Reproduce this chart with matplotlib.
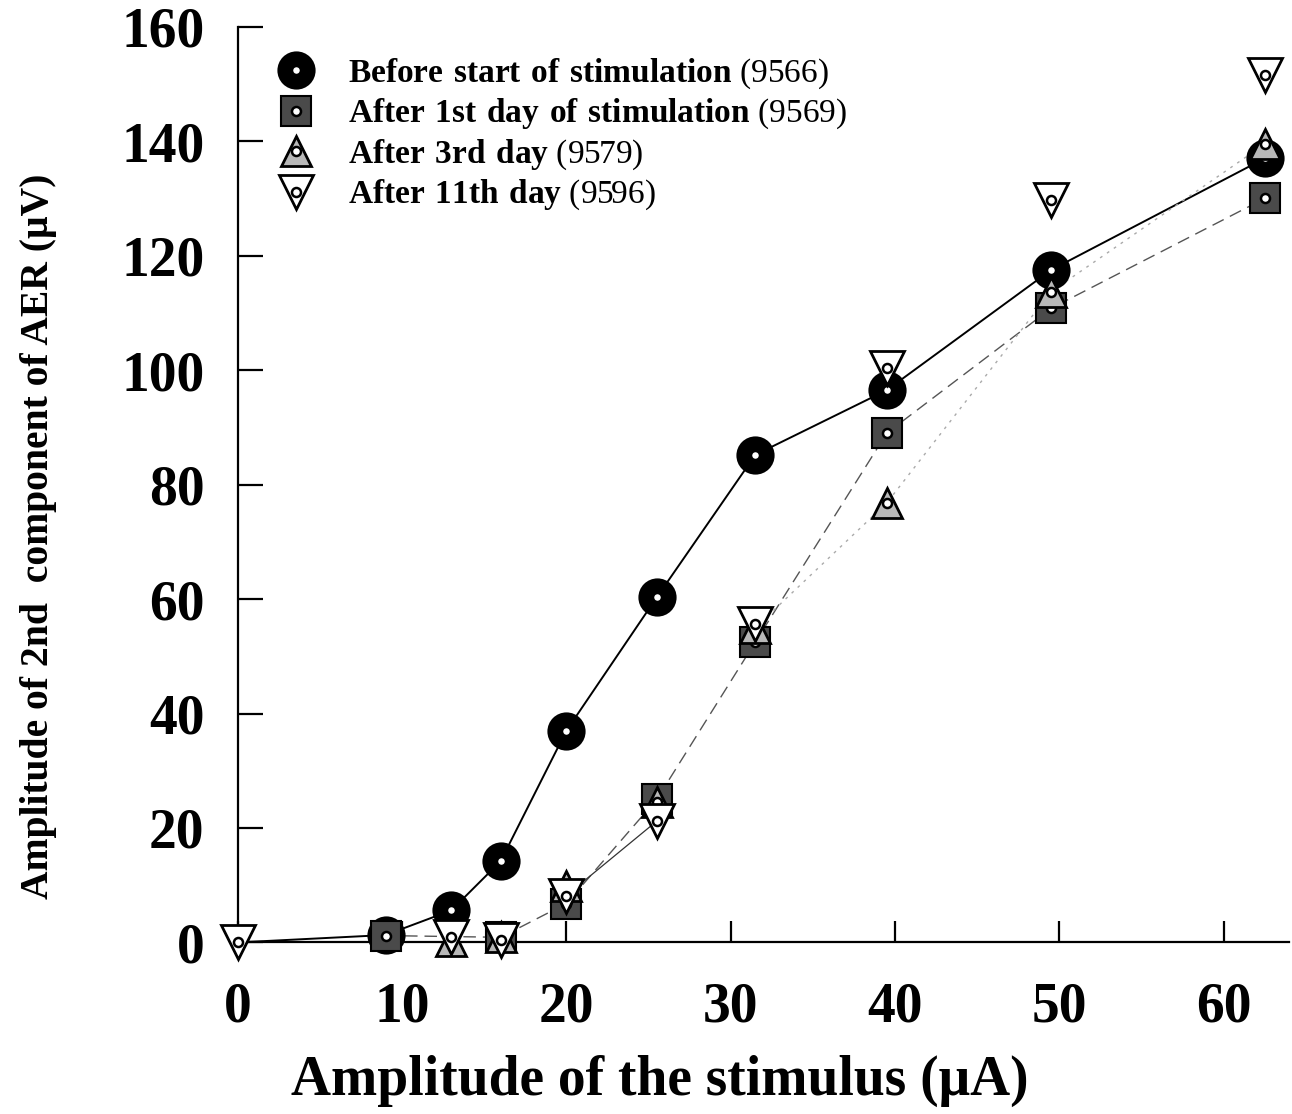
import numpy as np
import matplotlib
matplotlib.use("Agg")
import matplotlib.pyplot as plt

plt.rcParams['font.family'] = ['Liberation Serif', 'DejaVu Serif']
plt.rcParams['mathtext.fontset'] = 'custom'
plt.rcParams['mathtext.rm'] = 'Liberation Serif'
plt.rcParams['mathtext.bf'] = 'Liberation Serif:bold'

# Stimulus amplitude (uA) and AER 2nd-component amplitude (uV)
stimulus = [0, 9, 13, 16, 20, 25.5, 31.5, 39.5, 49.5, 62.5]
before = [0, 1.3, 5.6, 14.2, 37.0, 60.3, 85.2, 96.5, 117.5, 137.0]
day1 = [np.nan, 1.2, np.nan, 0.9, 6.8, 25.0, 52.5, 89.0, 110.8, 130.0]
day3 = [np.nan, np.nan, 0.3, 1.0, 9.8, 24.5, 55.0, 76.8, 113.7, 139.5]
day11 = [0, np.nan, 1.0, 0.5, 8.2, 21.2, 55.6, 100.3, 129.7, 151.6]

labels = [r"$\mathbf{Before\ start\ of\ stimulation}$ (9566)",
          r"$\mathbf{After\ 1st\ day\ of\ stimulation}$ (9569)",
          r"$\mathbf{After\ 3rd\ day}$ (9579)",
          r"$\mathbf{After\ 11th\ day}$ (9596)"]

xticks = [0, 10, 20, 30, 40, 50, 60]
yticks = [0, 20, 40, 60, 80, 100, 120, 140, 160]

fig = plt.figure(figsize=(12.92, 11.14), dpi=100)
ax = fig.add_axes([0.184, 0.154, 0.814, 0.822])

x = np.array(stimulus, dtype=float)

def connected(y):
    y = np.array(y, dtype=float)
    m = ~np.isnan(y)
    return x[m], y[m]

# connecting lines
bx, by = connected(before)
ax.plot(bx, by, color='black', lw=1.4, zorder=2, clip_on=False)
d1x, d1y = connected(day1)
ax.plot(d1x, d1y, color='#555555', lw=1.0, dashes=(9, 5), zorder=2, clip_on=False)
d3x, d3y = connected(day3)
ax.plot(d3x[4:], d3y[4:], color='#aaaaaa', lw=1.0, dashes=(2, 4), zorder=2, clip_on=False)
d11x, d11y = connected(day11)
ax.plot(d11x[3:5], d11y[3:5], color='#333333', lw=0.9, zorder=2, clip_on=False)

dot = dict(marker='o', ms=6.5, mfc='white', mec='black', mew=1.8, ls='none', clip_on=False)

series = [
    (before, dict(marker='o', ms=26, mfc='black', mec='black', mew=1.5), True),
    (day1, dict(marker='s', ms=21, mfc='#4a4a4a', mec='black', mew=1.5), False),
    (day3, dict(marker='^', ms=21, mfc='#b8b8b8', mec='black', mew=2.0), False),
    (day11, dict(marker='v', ms=24, mfc='white', mec='black', mew=2.0), False),
]

handles = []
for i, (vals, style, skip_first) in enumerate(series):
    px, py = connected(vals)
    if skip_first:
        px, py = px[1:], py[1:]
    h1, = ax.plot(px, py, ls='none', clip_on=False, zorder=3 + i, **style)
    h2, = ax.plot(px, py, zorder=3.5 + i, **dot)
    handles.append((h1, h2))

ax.set_xlim(0, 64)
ax.set_ylim(0, 160)
ax.set_xticks(xticks)
ax.set_yticks(yticks)

for s in ('top', 'right'):
    ax.spines[s].set_visible(False)
for s in ('left', 'bottom'):
    ax.spines[s].set_linewidth(1.6)

ax.tick_params(axis='both', direction='in', width=1.6, labelsize=40)
ax.tick_params(axis='y', length=18, pad=24)
ax.tick_params(axis='x', length=15, pad=28)
for t in ax.get_xticklabels() + ax.get_yticklabels():
    t.set_fontweight('bold')

ax.set_xlabel("Amplitude of the stimulus (\u03bcA)", fontsize=40, fontweight='bold')
ax.xaxis.set_label_coords(0.401, -0.123)
ax.set_ylabel("Amplitude of 2nd  component of AER (\u03bcV)", fontsize=28.5, fontweight='bold')
ax.yaxis.set_label_coords(-0.172, 0.443)

leg = ax.legend(handles, labels, loc='upper left', bbox_to_anchor=(0.024, 0.982),
                frameon=False, fontsize=24, handlelength=1.2, handletextpad=0.95,
                labelspacing=0.18, borderaxespad=0)

fig.savefig("out.png", dpi=100)
